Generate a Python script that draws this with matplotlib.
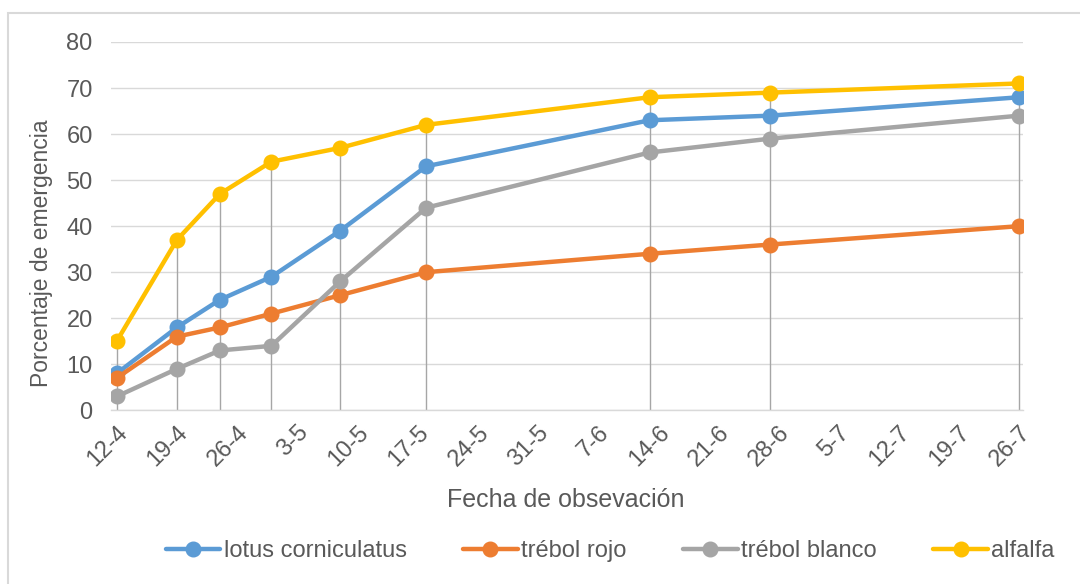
import datetime as dt
import matplotlib
matplotlib.use("Agg")
import matplotlib.pyplot as plt
from matplotlib.patches import Rectangle

# ---- data ----
fechas = ["2017-04-12", "2017-04-19", "2017-04-24", "2017-04-30", "2017-05-08",
          "2017-05-18", "2017-06-13", "2017-06-27", "2017-07-26"]
series_names = ["lotus corniculatus", "trébol rojo", "trébol blanco", "alfalfa"]
lotus = [8, 18, 24, 29, 39, 53, 63, 64, 68]
trebol_rojo = [7, 16, 18, 21, 25, 30, 34, 36, 40]
trebol_blanco = [3, 9, 13, 14, 28, 44, 56, 59, 64]
alfalfa = [15, 37, 47, 54, 57, 62, 68, 69, 71]
colors = ["#5B9BD5", "#ED7D31", "#A5A5A5", "#FFC000"]
y_ticks = [0, 10, 20, 30, 40, 50, 60, 70, 80]
x_label = "Fecha de obsevación"
y_label = "Porcentaje de emergencia"

dates = [dt.datetime.strptime(f, "%Y-%m-%d") for f in fechas]
all_series = [lotus, trebol_rojo, trebol_blanco, alfalfa]

plt.rcParams["font.family"] = ["Liberation Sans", "DejaVu Sans"]
txt = "#595959"

W, H = 1080, 584
fig = plt.figure(figsize=(W / 100, H / 100), dpi=100)
ax = fig.add_axes([110.7 / W, 1 - 410.3 / H, (1023 - 110.7) / W, (410.3 - 42) / H])

# drop lines
tops = [max(v) for v in zip(*all_series)]
ax.vlines(dates, 0, tops, color="#A6A6A6", lw=1.0, zorder=1)

for name, vals, c in zip(series_names, all_series, colors):
    ax.plot(dates, vals, color=c, lw=3.2, marker="o", ms=10.5, label=name,
            zorder=3, solid_capstyle="round")

start = dates[0]
ax.set_xlim(start - dt.timedelta(days=0.7), dates[-1] + dt.timedelta(days=0.45))
ax.set_ylim(0, 80)
ticks = [start + dt.timedelta(days=7 * i) for i in range(16)]
ax.set_xticks(ticks)
ax.set_xticklabels([f"{d.day}-{d.month}" for d in ticks], rotation=45,
                   ha="right", va="top", rotation_mode="anchor")
ax.set_yticks(y_ticks)
ax.grid(axis="y", color="#D9D9D9", lw=1.0, zorder=0)
ax.set_axisbelow(True)
for s in ["top", "right", "left"]:
    ax.spines[s].set_visible(False)
ax.spines["bottom"].set_color("#D9D9D9")
ax.spines["bottom"].set_linewidth(1.0)
ax.tick_params(axis="both", length=0, labelsize=17, colors=txt)
ax.tick_params(axis="y", pad=13)
ax.tick_params(axis="x", pad=8)
ax.set_xlabel(x_label, fontsize=18, color=txt)
ax.set_ylabel(y_label, fontsize=16.5, color=txt)
ax.xaxis.set_label_coords((566 - 110.7) / 912.3, -(500 - 410.3) / 368.3)
ax.yaxis.set_label_coords((42 - 110.7) / 912.3, (410.3 - 253) / 368.3)
ax.xaxis.label.set_va("center")
ax.yaxis.label.set_va("center")

leg = fig.legend(loc="center", bbox_to_anchor=(0.565, 1 - 551 / H), ncol=4,
                 frameon=False, fontsize=17, handlelength=2.3, handletextpad=0.15,
                 columnspacing=2.4, labelcolor=txt)

fig.patches.append(Rectangle((8 / W, -0.1), 1.2, 1 + 0.1 - 13 / H,
                             transform=fig.transFigure, fill=False,
                             edgecolor="#D9D9D9", lw=1.5))

fig.savefig("out.png", dpi=100, facecolor="white")
